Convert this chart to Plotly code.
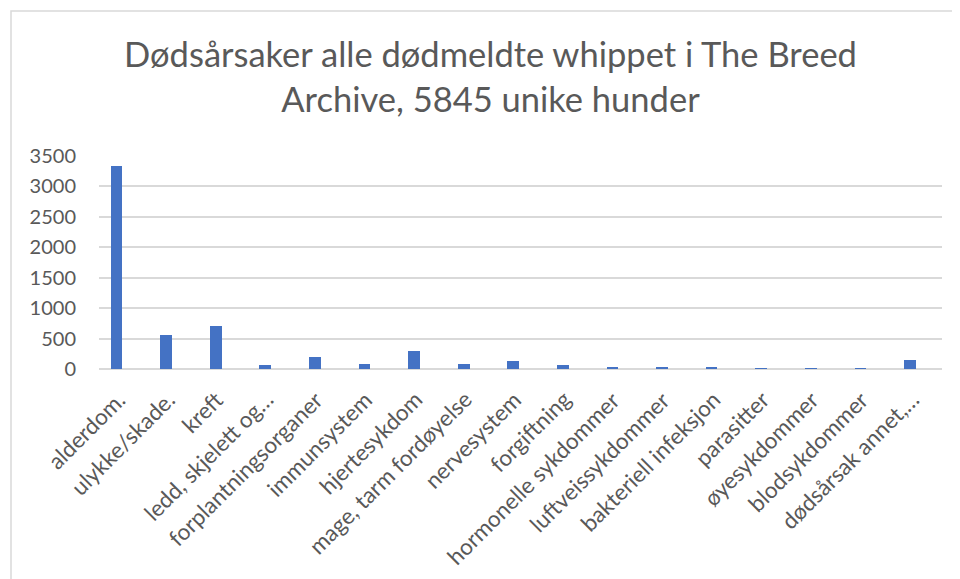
import plotly.graph_objects as go

categories = [
    "alderdom.", "ulykke/skade.", "kreft", "ledd, skjelett og…",
    "forplantningsorganer", "immunsystem", "hjertesykdom",
    "mage, tarm fordøyelse", "nervesystem", "forgiftning",
    "hormonelle sykdommer", "luftveissykdommer", "bakteriell infeksjon",
    "parasitter", "øyesykdommer", "blodsykdommer", "dødsårsak annet,…",
]
values = [3330, 560, 705, 70, 200, 75, 295, 90, 125, 60, 25, 25, 25, 5, 5, 5, 140]
y_ticks = [0, 500, 1000, 1500, 2000, 2500, 3000, 3500]

TEXT = "#595959"
GRID = "#D9D9D9"
BAR = "#4472C4"
FONT = "Lato"

fig = go.Figure()
fig.add_trace(go.Bar(
    x=categories, y=values,
    marker=dict(color=BAR, line=dict(width=0)),
    width=0.236, offset=-0.264,
    showlegend=False,
))

# the page body adds an 8px offset, so figure coords = screen coords - 8
OFF = 8
W, H = 960, 579
L, T = 99 - OFF, 156 - OFF
pw, ph = 843, 213
R, B = W - L - pw, H - T - ph

annotations = [
    dict(
        x=c, y=0, xref="x", yref="y", text=c, showarrow=False,
        textangle=-45, xanchor="right", yanchor="top",
        xshift=9, yshift=-14,
        font=dict(family=FONT, size=22.5, color=TEXT),
    )
    for c in categories
]

fig.update_layout(
    width=W, height=H,
    margin=dict(l=L, r=R, t=T, b=B, pad=0, autoexpand=False),
    paper_bgcolor="white", plot_bgcolor="white",
    font=dict(family=FONT, color=TEXT, size=20),
    title=dict(
        text="Dødsårsaker alle dødmeldte whippet i The Breed<br>Archive, 5845 unike hunder",
        xref="container", yref="container",
        x=(490.5 - OFF) / W, xanchor="center",
        y=1 - 59 / H, yanchor="top",
        font=dict(family=FONT, size=34.5, color=TEXT),
    ),
    xaxis=dict(
        type="category", range=[-0.5, len(categories) - 0.5],
        showgrid=False, showline=False, zeroline=False,
        ticks="", showticklabels=False, automargin=False,
    ),
    yaxis=dict(
        range=[0, 3500], tickvals=y_ticks, ticktext=[str(v) for v in y_ticks],
        showgrid=True, gridcolor=GRID, gridwidth=1.5,
        zeroline=True, zerolinecolor=GRID, zerolinewidth=1.5,
        showline=False, ticks="", ticklabelstandoff=22, automargin=False,
        tickfont=dict(size=20, color=TEXT, family=FONT),
    ),
    bargap=0,
    annotations=annotations,
    shapes=[dict(
        type="rect", xref="paper", yref="paper",
        x0=(11 - OFF - L) / pw, x1=(W + 5 - L) / pw,
        y0=(-5 - B) / ph, y1=(H - (11 - OFF) - B) / ph,
        line=dict(color=GRID, width=1.5), fillcolor="rgba(0,0,0,0)", layer="below",
    )],
)

fig.write_html("out.html")
